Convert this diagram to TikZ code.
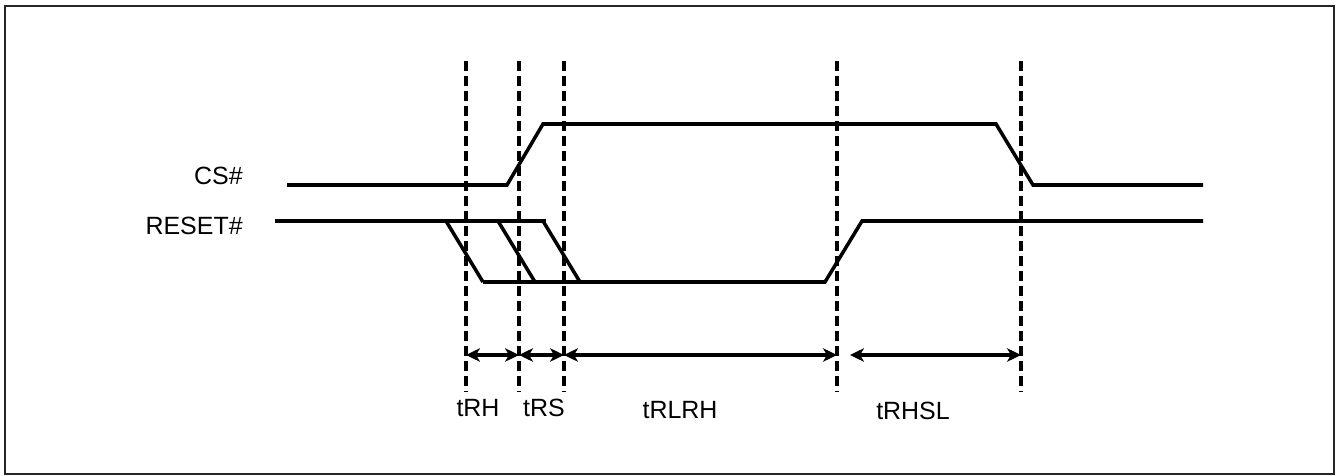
\documentclass[tikz,border=0pt]{standalone}
\usepackage{fontspec}
\setmainfont{Liberation Sans}
\usepackage{tikz}
\usetikzlibrary{arrows.meta, positioning, calc}

\begin{document}
\begin{tikzpicture}[
    x=0.02cm, y=-0.02cm,
    signal/.style={line width=2pt, line join=miter},
    guide/.style={line width=2pt, dash pattern=on 0.2cm off 0.1cm},
    span/.style={line width=2pt, {Stealth[length=0.28cm, width=0.27cm, inset=0.08cm]}-{Stealth[length=0.28cm, width=0.27cm, inset=0.08cm]}},
    sig-name/.style={font=\fontsize{14.2}{17}\selectfont, inner sep=0pt, anchor=east},
    time-name/.style={font=\fontsize{14.2}{17}\selectfont, inner sep=0pt},
]
\useasboundingbox (0,0) rectangle (1336,476);
\draw[line width=1.4pt, black!85] (5,6) rectangle (1334,474);

% timing guides
\foreach \name/\x in {g1/466, g2/519, g3/564, g4/837, g5/1021} {
    \draw[guide] (\x,61) -- (\x,392);
    \coordinate (\name-mid) at (\x,355);
}
\coordinate (rhsl-start) at (850,355);

% signals
\node[sig-name] (cs-label) at (243,176) {CS\#};
\node[sig-name] (reset-label) at (243,226) {RESET\#};

\draw[signal] (287,185) -- (507,185) -- (543,124) -- (996,124) -- (1033,185) -- (1203,185);
\draw[signal] (275,221) -- (546,221);
\draw[signal] (446,221) -- (483,282);
\draw[signal] (498,221) -- (535,282);
\draw[signal] (543,221) -- (580,282);
\draw[signal] (483,282) -- (825,282) -- (862,221) -- (1203,221);

% spans
\draw[span] (g1-mid) -- (g2-mid);
\draw[span] (g2-mid) -- (g3-mid);
\draw[span] (g3-mid) -- (g4-mid);
\draw[span] (rhsl-start) -- (g5-mid);

\node[time-name] (trh-label) at (478,408) {tRH};
\node[time-name] (trs-label) at (544,408) {tRS};
\node[time-name] (trlrh-label) at (680,410) {tRLRH};
\node[time-name] (trhsl-label) at (913,411) {tRHSL};
\end{tikzpicture}
\end{document}
